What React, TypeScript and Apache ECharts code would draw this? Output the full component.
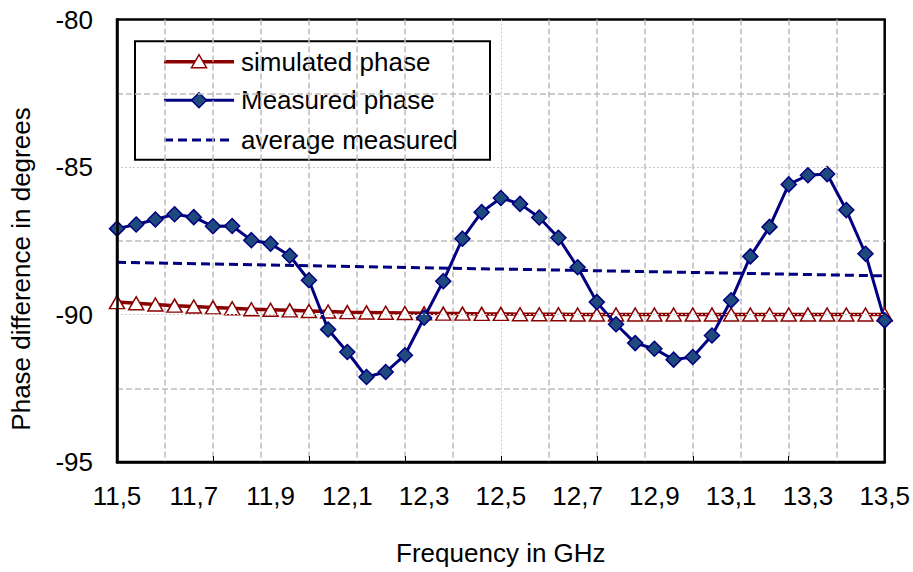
import React, { useEffect, useRef } from "react";
import * as echarts from "echarts";

const freqs = [11.5, 11.55, 11.6, 11.65, 11.7, 11.75, 11.8, 11.85, 11.9, 11.95, 12.0, 12.05, 12.1, 12.15, 12.2, 12.25, 12.3, 12.35, 12.4, 12.45, 12.5, 12.55, 12.6, 12.65, 12.7, 12.75, 12.8, 12.85, 12.9, 12.95, 13.0, 13.05, 13.1, 13.15, 13.2, 13.25, 13.3, 13.35, 13.4, 13.45, 13.5];

const simulatedPhase = [-89.58, -89.62, -89.66, -89.7, -89.73, -89.76, -89.79, -89.82, -89.84, -89.86, -89.88, -89.9, -89.92, -89.93, -89.94, -89.95, -89.96, -89.97, -89.97, -89.98, -89.98, -89.99, -89.99, -89.99, -90.0, -90.0, -90.0, -90.0, -90.0, -90.0, -90.0, -90.0, -90.0, -90.0, -90.0, -90.0, -90.0, -90.0, -90.0, -90.0, -90.0];

const measuredPhase = [-87.09, -86.95, -86.78, -86.6, -86.7, -87.01, -87.0, -87.48, -87.6, -88.01, -88.84, -90.51, -91.27, -92.12, -91.95, -91.38, -90.11, -88.87, -87.43, -86.53, -86.05, -86.25, -86.71, -87.4, -88.4, -89.58, -90.33, -90.97, -91.16, -91.53, -91.44, -90.71, -89.52, -88.03, -87.03, -85.59, -85.28, -85.24, -86.46, -87.94, -90.2];

const averageFreqs = [11.5, 13.5];
const averageMeasured = [-88.23, -88.69];

const legendNames = ["simulated phase", "Measured phase", "average measured"];
const xTitle = "Frequency in GHz";
const yTitle = "Phase difference in degrees";

const FONT = "'Liberation Sans', Arial, Helvetica, sans-serif";
const RED = "#8b0000";
const NAVY = "#000080";
const DIAMOND_FILL = "#1f4a7e";
const GRID_DASH = "#bdbdbd";
const GRID_DOT = "#c8c8c8";
const T = "rgba(0,0,0,0)";

export default function App() {
  const ref = useRef<HTMLDivElement>(null);

  useEffect(() => {
    if (!ref.current) return;
    const chart = echarts.init(ref.current, null, { renderer: "svg" });

    const pairs = (xs: number[], ys: number[]) => xs.map((x, i) => [x, ys[i]]);

    // dashed vertical lines every 0.125, none at the borders or at the middle (12.5)
    const xDashColors = Array.from({ length: 17 }, (_, i) => (i === 0 || i === 8 || i === 16 ? T : GRID_DASH));
    // dotted vertical line only at 12.5 (index 4 with 0.25 spacing)
    const xDotColors = Array.from({ length: 9 }, (_, i) => (i === 4 ? GRID_DOT : T));
    // dotted horizontal lines only at -90 and -85
    const yDotColors = [T, GRID_DOT, GRID_DOT, T];

    const legendX0 = 164;
    const legendX1 = 234;
    const legendMid = 199;
    const rowY = [61.7, 100.3, 140];

    const option: any = {
      animation: false,
      backgroundColor: "#ffffff",
      grid: {
        left: 117,
        top: 19.5,
        right: 28,
        bottom: 110,
        show: true,
        borderColor: "#000",
        borderWidth: 2.5,
        backgroundColor: "#fff",
        containLabel: false,
      },
      xAxis: [
        {
          type: "value",
          min: 11.5,
          max: 13.5,
          interval: 0.2,
          position: "bottom",
          axisLine: { show: true, onZero: false, lineStyle: { color: "#000", width: 2.5 } },
          axisTick: { show: false },
          splitLine: { show: false },
          axisLabel: {
            fontSize: 26,
            fontFamily: FONT,
            color: "#000",
            margin: 21,
            formatter: (v: number) => v.toFixed(1).replace(".", ","),
          },
          name: xTitle,
          nameLocation: "middle",
          nameGap: 78,
          nameTextStyle: { fontSize: 26, fontFamily: FONT, color: "#000" },
          z: 5,
        },
        {
          type: "value",
          min: 11.5,
          max: 13.5,
          interval: 0.125,
          position: "bottom",
          axisLine: { show: false, onZero: false },
          axisTick: { show: false },
          axisLabel: { show: false },
          splitLine: { show: true, lineStyle: { color: xDashColors, type: [6, 3], width: 1.5 } },
        },
        {
          type: "value",
          min: 11.5,
          max: 13.5,
          interval: 0.25,
          position: "bottom",
          axisLine: { show: false, onZero: false },
          axisTick: { show: true, inside: true, length: 6, lineStyle: { color: "#000", width: 1 } },
          axisLabel: { show: false },
          splitLine: { show: true, lineStyle: { color: xDotColors, type: [2, 2], width: 1 } },
        },
      ],
      yAxis: [
        {
          type: "value",
          min: -95,
          max: -80,
          interval: 5,
          position: "left",
          axisLine: { show: true, onZero: false, lineStyle: { color: "#000", width: 2.5 } },
          axisTick: { show: false },
          axisLabel: { fontSize: 26, fontFamily: FONT, color: "#000", margin: 24 },
          splitLine: { show: true, lineStyle: { color: yDotColors, type: [2, 2], width: 1 } },
          z: 5,
        },
        {
          type: "value",
          min: -95,
          max: -80,
          interval: 2.5,
          position: "left",
          axisLine: { show: false, onZero: false },
          axisTick: { show: false },
          axisLabel: { show: false },
          splitLine: { show: true, lineStyle: { color: [T, GRID_DASH], type: [6, 3], width: 1.5 } },
        },
      ],
      series: [
        {
          name: legendNames[2],
          type: "line",
          xAxisIndex: 0,
          yAxisIndex: 0,
          data: pairs(averageFreqs, averageMeasured),
          symbol: "none",
          lineStyle: { color: NAVY, width: 3, type: [9, 5] },
          z: 2,
        },
        {
          name: legendNames[0],
          type: "line",
          xAxisIndex: 0,
          yAxisIndex: 0,
          data: pairs(freqs, simulatedPhase),
          symbol: "triangle",
          symbolSize: [15, 13],
          lineStyle: { color: RED, width: 3.5 },
          itemStyle: { color: "#fff", borderColor: RED, borderWidth: 1.5 },
          z: 3,
        },
        {
          name: legendNames[1],
          type: "line",
          xAxisIndex: 0,
          yAxisIndex: 0,
          data: pairs(freqs, measuredPhase),
          symbol: "diamond",
          symbolSize: 15,
          lineStyle: { color: NAVY, width: 3 },
          itemStyle: { color: DIAMOND_FILL, borderColor: NAVY, borderWidth: 1.5 },
          z: 4,
        },
      ],
      graphic: [
        {
          type: "text",
          x: 21,
          y: 269,
          rotation: Math.PI / 2,
          style: {
            text: yTitle,
            x: 0,
            y: 0,
            fill: "#000",
            fontSize: 26,
            fontFamily: FONT,
            textAlign: "center",
            textVerticalAlign: "middle",
            align: "center",
            verticalAlign: "middle",
          },
        },
        {
          type: "group",
          z: 100,
          children: [
            {
              type: "rect",
              shape: { x: 135, y: 41.3, width: 355, height: 118.4 },
              style: { fill: "#fff", stroke: "#000", lineWidth: 2 },
            },
            {
              type: "line",
              shape: { x1: legendX0, y1: rowY[0], x2: legendX1, y2: rowY[0] },
              style: { stroke: RED, lineWidth: 3.5 },
            },
            {
              type: "polygon",
              shape: {
                points: [
                  [legendMid - 7.5, rowY[0] + 6],
                  [legendMid + 7.5, rowY[0] + 6],
                  [legendMid, rowY[0] - 7],
                ],
              },
              style: { fill: "#fff", stroke: RED, lineWidth: 1.5 },
            },
            {
              type: "line",
              shape: { x1: legendX0, y1: rowY[1], x2: legendX1, y2: rowY[1] },
              style: { stroke: NAVY, lineWidth: 3 },
            },
            {
              type: "polygon",
              shape: {
                points: [
                  [legendMid, rowY[1] - 7.5],
                  [legendMid + 7.5, rowY[1]],
                  [legendMid, rowY[1] + 7.5],
                  [legendMid - 7.5, rowY[1]],
                ],
              },
              style: { fill: DIAMOND_FILL, stroke: NAVY, lineWidth: 1.5 },
            },
            {
              type: "line",
              shape: { x1: legendX0, y1: rowY[2], x2: legendX1, y2: rowY[2] },
              style: { stroke: NAVY, lineWidth: 3, lineDash: [9, 5] },
            },
            ...legendNames.map((name, i) => ({
              type: "text",
              x: 241,
              y: rowY[i],
              style: {
                text: name,
                x: 0,
                y: 0,
                fill: "#000",
                fontSize: 26,
                fontFamily: FONT,
                textAlign: "left",
                textVerticalAlign: "middle",
                align: "left",
                verticalAlign: "middle",
              },
            })),
          ],
        },
      ],
    };

    chart.setOption(option);
    return () => chart.dispose();
  }, []);

  return (
    <div
      ref={ref}
      style={{ position: "fixed", left: 0, top: 0, width: 913, height: 572, background: "#fff" }}
    />
  );
}
